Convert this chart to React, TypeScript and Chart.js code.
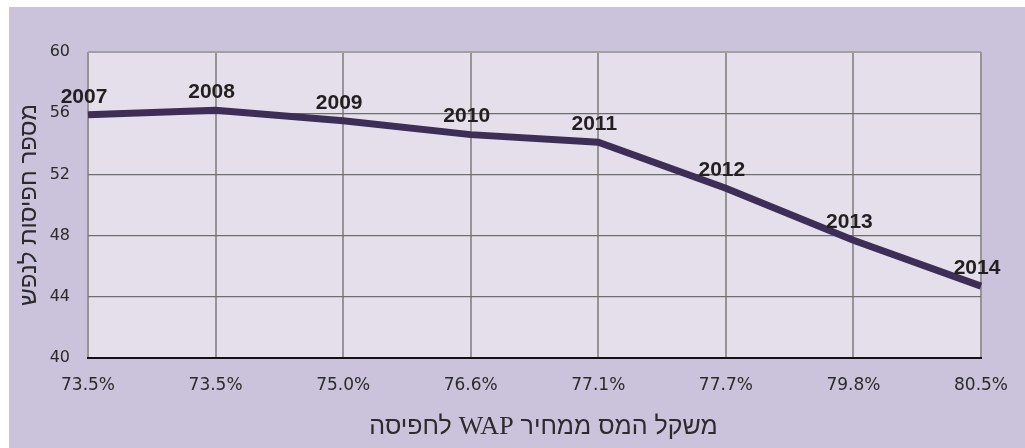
import React, { useEffect, useRef } from "react";
import { Chart, registerables } from "chart.js";

Chart.register(...registerables);

const categories: string[] = ["73.5%", "73.5%", "75.0%", "76.6%", "77.1%", "77.7%", "79.8%", "80.5%"];
const years: string[] = ["2007", "2008", "2009", "2010", "2011", "2012", "2013", "2014"];
const packsPerCapita: number[] = [55.9, 56.2, 55.5, 54.6, 54.1, 51.1, 47.7, 44.7];
const yMin = 40;
const yMax = 60;
const yStep = 4;
const xTitle = "משקל המס ממחיר WAP לחפיסה";
const yTitle = "מספר חפיסות לנפש";

const OUTER_BG = "#cbc2dc";
const PLOT_BG = "#e4dfeb";
const LINE_COLOR = "#3d2e57";
const TEXT_COLOR = "#2b2b2b";
const HEB_FONT = "'Liberation Sans', Arial, sans-serif";
const LAT_FONT = "'Liberation Serif', 'Times New Roman', serif";
const X_TITLE_SIZE = 25;

const backgroundPlugin = {
  id: "bgPlugin",
  beforeDraw(chart: any) {
    const { ctx, chartArea, width, height } = chart;
    ctx.save();
    ctx.fillStyle = "#ffffff";
    ctx.fillRect(0, 0, width, height);
    ctx.fillStyle = OUTER_BG;
    ctx.fillRect(9, 7, width - 9, height - 7);
    ctx.fillStyle = PLOT_BG;
    ctx.fillRect(chartArea.left, chartArea.top, chartArea.right - chartArea.left, chartArea.bottom - chartArea.top);
    ctx.restore();
  },
};

const xTitlePlugin = {
  id: "xTitleMixed",
  afterDraw(chart: any) {
    const { ctx, chartArea } = chart;
    const runs = xTitle.split(/([A-Za-z]+)/).filter((s) => s.length > 0);
    ctx.save();
    ctx.fillStyle = TEXT_COLOR;
    ctx.textBaseline = "middle";
    ctx.textAlign = "right";
    const fontFor = (s: string) => (/[A-Za-z]/.test(s) ? `${X_TITLE_SIZE + 1}px ${LAT_FONT}` : `${X_TITLE_SIZE}px ${HEB_FONT}`);
    let total = 0;
    const widths = runs.map((r) => {
      ctx.font = fontFor(r);
      const w = ctx.measureText(r).width;
      total += w;
      return w;
    });
    const cx = (chartArea.left + chartArea.right) / 2 + 9;
    let x = cx + total / 2;
    const y = chartArea.bottom + 69;
    runs.forEach((r, i) => {
      ctx.font = fontFor(r);
      ctx.direction = /[A-Za-z]/.test(r) ? "ltr" : "rtl";
      ctx.textAlign = "right";
      ctx.fillText(r, x, y);
      x -= widths[i];
    });
    ctx.restore();
  },
};

const yearLabelPlugin = {
  id: "yearLabels",
  afterDatasetsDraw(chart: any) {
    const { ctx } = chart;
    const meta = chart.getDatasetMeta(0);
    ctx.save();
    ctx.font = "bold 21px 'Liberation Sans', Arial, sans-serif";
    ctx.fillStyle = "#231f20";
    ctx.textAlign = "center";
    ctx.textBaseline = "middle";
    meta.data.forEach((pt: any, i: number) => {
      ctx.fillText(years[i], pt.x - 4, pt.y - 18);
    });
    ctx.restore();
  },
};

export default function App() {
  const canvasRef = useRef<HTMLCanvasElement | null>(null);

  useEffect(() => {
    if (!canvasRef.current) return;
    const chart = new Chart(canvasRef.current, {
      type: "line",
      data: {
        labels: categories,
        datasets: [
          {
            data: packsPerCapita,
            borderColor: LINE_COLOR,
            borderWidth: 7,
            pointRadius: 0,
            tension: 0,
            fill: false,
            borderJoinStyle: "miter",
          },
        ],
      },
      options: {
        responsive: false,
        animation: false,
        devicePixelRatio: 1,
        layout: { padding: { left: 10, top: 52, right: 39, bottom: 0 } },
        plugins: {
          legend: { display: false },
          tooltip: { enabled: false },
        },
        scales: {
          x: {
            type: "category",
            offset: false,
            afterFit: (scale: any) => {
              scale.height = 90;
            },
            grid: {
              color: "#959595",
              lineWidth: 2,
              drawTicks: false,
            },
            border: { color: "#111111", width: 2 },
            ticks: {
              padding: 17,
              color: TEXT_COLOR,
              font: { family: "'DejaVu Sans', sans-serif", size: 17 },
              maxRotation: 0,
              autoSkip: false,
            },
          },
          y: {
            min: yMin,
            max: yMax,
            afterFit: (scale: any) => {
              scale.width = 78;
            },
            grid: {
              drawTicks: false,
              color: (c: any) => (c.tick && c.tick.value === yMax ? "#a0a0a0" : "#6f6f6f"),
              lineWidth: (c: any) => (c.tick && c.tick.value === yMax ? 2 : 1.2),
            },
            border: { display: false },
            ticks: {
              stepSize: yStep,
              padding: 18,
              color: TEXT_COLOR,
              font: { family: "'DejaVu Sans', sans-serif", size: 16 },
            },
            title: {
              display: true,
              text: yTitle,
              color: TEXT_COLOR,
              font: { family: HEB_FONT, size: 24 },
              padding: { top: 5, bottom: 0 },
            },
          },
        },
      },
      plugins: [backgroundPlugin, yearLabelPlugin, xTitlePlugin],
    });
    return () => chart.destroy();
  }, []);

  return (
    <div style={{ position: "absolute", left: 0, top: 0, width: 1025, height: 448 }}>
      <canvas ref={canvasRef} width={1025} height={448} style={{ display: "block" }} />
    </div>
  );
}
